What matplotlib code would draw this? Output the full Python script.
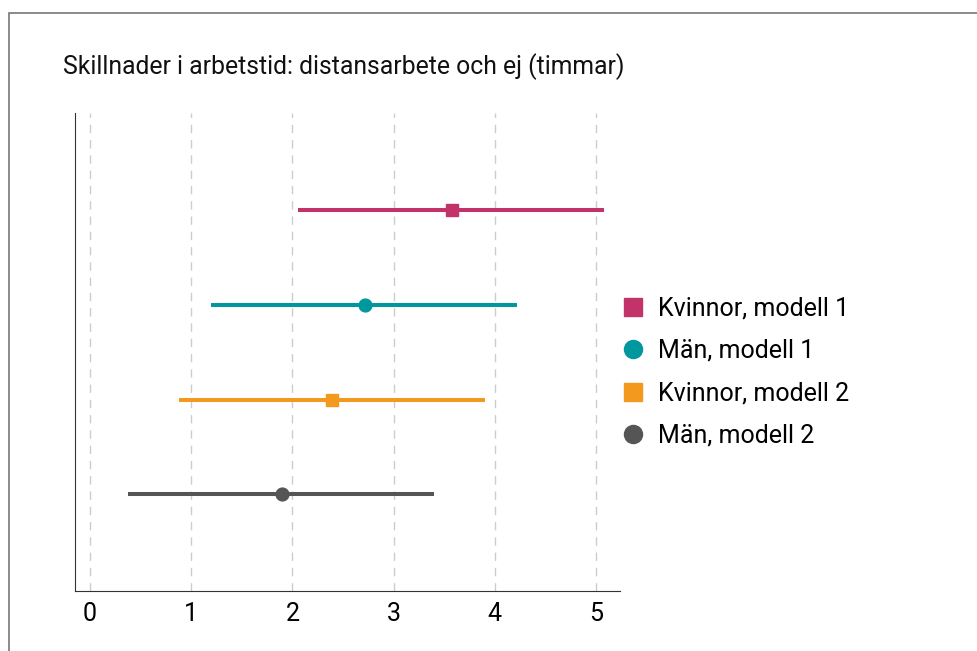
import numpy as np
import matplotlib
matplotlib.use("Agg")
import matplotlib.pyplot as plt
from matplotlib.patches import Rectangle
from matplotlib.lines import Line2D

plt.rcParams['font.family'] = ['Roboto', 'DejaVu Sans']

# data
labels = ["Kvinnor, modell 1", "Män, modell 1", "Kvinnor, modell 2", "Män, modell 2"]
estimates = [3.58, 2.72, 2.39, 1.90]
ci_low = [2.06, 1.20, 0.88, 0.38]
ci_high = [5.08, 4.22, 3.90, 3.40]
colors = ["#C2336A", "#00979F", "#F39A1E", "#555555"]
markers = ["s", "o", "s", "o"]
rows = [4, 3, 2, 1]
xticks = [0, 1, 2, 3, 4, 5]

fig = plt.figure(figsize=(9.77, 6.51), dpi=100)
ax = fig.add_axes([75/977, 1 - 591/651, (620 - 75)/977, (591 - 113)/651])

for i in range(len(labels)):
    ax.plot([ci_low[i], ci_high[i]], [rows[i], rows[i]], color=colors[i],
            lw=2.9, solid_capstyle='butt', zorder=3)
    ax.plot(estimates[i], rows[i], marker=markers[i], color=colors[i],
            ms=9.2 if markers[i] == 'o' else 8.6, ls='none', zorder=4)

ax.set_xlim(-0.148, 5.237)
ax.set_ylim(-0.02, 5.03)
ax.set_xticks(xticks)
ax.set_xticklabels([str(t) for t in xticks], fontsize=18)
ax.set_yticks([])
ax.tick_params(axis='x', length=0, pad=8)
ax.xaxis.grid(True, color='#cccccc', ls=(0, (6, 5)), lw=1)
ax.set_axisbelow(True)
for s in ['top', 'right']:
    ax.spines[s].set_visible(False)
ax.spines['left'].set_color('#333333')
ax.spines['bottom'].set_color('#333333')

fig.text(63/977, 1 - 67/651, "Skillnader i arbetstid: distansarbete och ej (timmar)",
         fontsize=17.8, va='center', ha='left', color='#111111')

handles = [Line2D([], [], marker=markers[i], color=colors[i], ls='none', ms=13)
           for i in range(len(labels))]
fig.legend(handles, labels, loc='center left', bbox_to_anchor=(620.5/977, 1 - 372/651),
           frameon=False, fontsize=18, handletextpad=0.5, labelspacing=0.74,
           handlelength=1.0, borderpad=0, borderaxespad=0)

fig.add_artist(Rectangle((9/977, -0.02), 1.05, 1.02 - 13/651,
                         transform=fig.transFigure, fill=False,
                         edgecolor='#777777', lw=1.2))

fig.savefig("out.png", dpi=100)
